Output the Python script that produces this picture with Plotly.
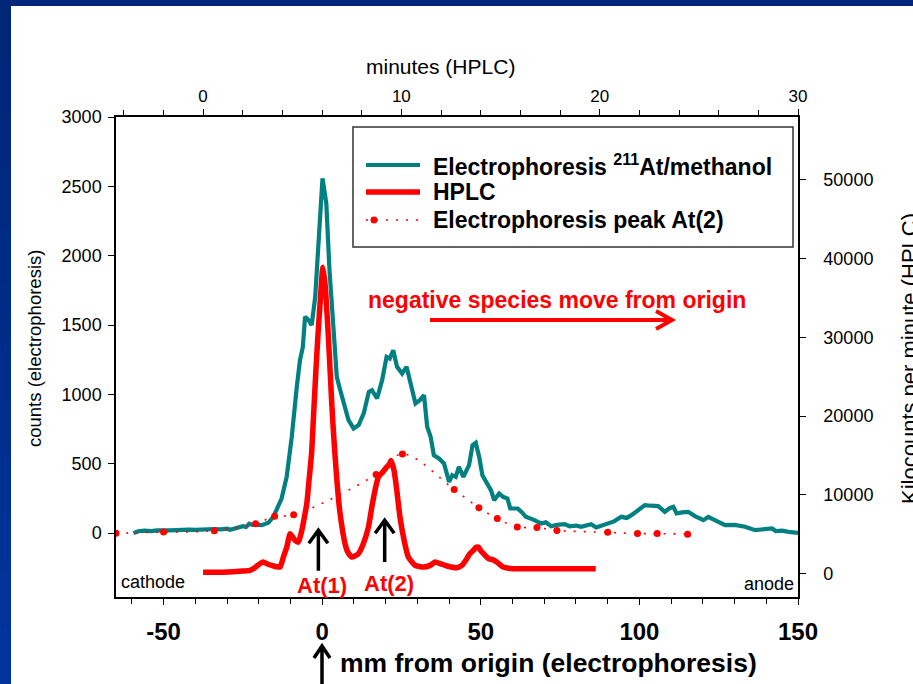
import plotly.graph_objects as go

# ---- data -------------------------------------------------------------
# electrophoresis scan: position (mm from origin) vs counts
ep_mm = [-59.5, -58, -56, -54, -52, -50, -48, -46, -44, -42, -40, -38, -36, -34, -32,
         -30, -29, -27, -25, -24, -23, -22, -21, -19, -17, -15.4, -14, -12.8, -11.2,
         -9.6, -8.0, -7.0, -6.1, -5.4, -4.3, -3.3, -2.2, -1.2, 0.1, 1.3, 2.3, 3.6, 4.6,
         5.7, 7.3, 8.3, 9.9, 11.5, 13.1, 14.7, 15.7, 17.3, 18.9, 20.3, 21.3, 22.4, 23.6,
         25.2, 26.6, 28.1, 29.4, 30.8, 32.1, 33.1, 34.2, 35.2, 36.8, 38.4, 40.0, 41.0,
         42.1, 43.1, 44.5, 46.3, 47.4, 48.4, 49.5, 50.5, 52.1, 53.2, 54.2, 55.8, 57.0,
         58.4, 59.3, 61.6, 63.0, 64.2, 66.9, 69.0, 70.5, 72.2, 74.0, 76.4, 78.0, 80.0,
         81.6, 83.0, 84.8, 86.4, 88.0, 90.1, 92.0, 94.3, 96.0, 97.5, 99.6, 101.7, 103.5,
         105.9, 108.0, 109.5, 110.7, 111.7, 113.5, 115.4, 117.5, 119.0, 120.2, 121.7,
         124.0, 127.0, 130.0, 133.3, 136.5, 139.0, 141.8, 143.0, 145.0, 147.0, 150.0]
ep_counts = [0, 14, 18, 15, 20, 17, 20, 22, 20, 25, 24, 28, 26, 30, 28,
             32, 25, 35, 50, 45, 68, 60, 62, 58, 75, 117, 180, 250, 406,
             694, 1055, 1247, 1343, 1560, 1536, 1500, 1704, 2137, 2558, 2377, 1897, 1464, 1127,
             1031, 911, 815, 755, 779, 863, 1019, 1031, 971, 1103, 1271, 1259, 1319, 1199,
             1151, 1199, 1055, 935, 959, 995, 767, 694, 562, 539, 503, 370, 418,
             406, 478, 406, 490, 634, 651, 550, 418, 358, 310, 238, 286, 262,
             250, 178, 178, 150, 118, 94, 70, 78, 50, 60, 65, 50, 55,
             46, 55, 65, 41, 52, 65, 85, 118, 110, 130, 166, 202, 198,
             195, 154, 180, 190, 142, 150, 154, 123, 105, 94, 118,
             90, 58, 60, 46, 22, 30, 34, 15, 18, 10, 2]

# HPLC trace: retention time (min) vs kilocounts per minute
hplc_min = [0.0, 0.5, 1.0, 1.5, 2.0, 2.37, 2.6, 2.85, 3.04, 3.25, 3.46, 3.7, 3.88, 4.05,
            4.22, 4.39, 4.5, 4.64, 4.81, 4.98, 5.1, 5.23, 5.35, 5.47, 5.58, 5.69, 5.8,
            5.9, 6.04, 6.15, 6.32, 6.49, 6.6, 6.71, 6.81, 6.91, 7.16, 7.3, 7.5, 7.65,
            7.83, 8.08, 8.34, 8.51, 8.67, 8.84, 9.06, 9.26, 9.4, 9.48, 9.63, 9.77, 9.93,
            10.14, 10.35, 10.69, 11.11, 11.45, 11.7, 12.0, 12.2, 12.5, 12.79, 13.05,
            13.3, 13.45, 13.63, 13.75, 13.88, 14.0, 14.14, 14.39, 14.6, 14.81, 15.14,
            15.4, 15.65, 16.5, 17.5, 18.5, 19.0, 19.8]
hplc_kcpm = [150, 150, 160, 200, 300, 380, 700, 1200, 1440, 1200, 1020, 850, 800, 2070,
             3340, 5040, 4700, 4190, 3980, 5460, 7000, 8860, 12000, 15200, 20500, 25800, 30500,
             34270, 38920, 36800, 30030, 21560, 17000, 13090, 10000, 7590, 3770, 2700, 2070, 2200,
             2500, 3770, 5880, 8430, 10550, 12240, 12870, 13510, 13900, 14360, 13090, 10550, 7150,
             4190, 2070, 1020, 800, 1020, 1440, 1200, 1020, 820, 720, 1020,
             1870, 2500, 2920, 3300, 3340, 2900, 2500, 1870, 1750, 1440, 800,
             650, 600, 600, 600, 600, 600, 600]

# electrophoresis peak At(2)
peak_mm = [-65, -50, -34, -21, -15, -9, 17, 25.3, 41.6, 49.4, 55.2, 61.5, 67.7, 74, 90,
           99.4, 105.6, 115.2]
peak_counts = [0, 8, 18, 68, 122, 132, 423, 571, 315, 184, 105, 45, 41, 20, 6,
               -3, -3, -7]

# axis ticks
mm_ticks = [-50, 0, 50, 100, 150]
min_ticks = [0, 10, 20, 30]
count_ticks = [0, 500, 1000, 1500, 2000, 2500, 3000]
kcpm_ticks = [0, 10000, 20000, 30000, 40000, 50000]

series_names = ["Electrophoresis <sup>211</sup>At/methanol", "HPLC",
                "Electrophoresis peak At(2)"]

# ---- layout geometry (pixels) -----------------------------------------
W, H = 913, 684
ML, MR, MT, MB = 116, 115, 117, 87
PW, PH = W - ML - MR, H - MT - MB


def px(x):
    return (x - ML) / PW


def py(y):
    return (H - MB - y) / PH


FONT = "Liberation Sans, Arial, sans-serif"
TEAL = "#008080"
RED = "#ff0000"
BLACK = "#000000"
DOT_DASH = "2px,8px"

fig = go.Figure()
fig.add_trace(go.Scatter(
    x=ep_mm, y=ep_counts, mode="lines", xaxis="x", yaxis="y",
    line=dict(color=TEAL, width=4.2), name=series_names[0]))
fig.add_trace(go.Scatter(
    x=hplc_min, y=hplc_kcpm, mode="lines", xaxis="x2", yaxis="y2",
    line=dict(color=RED, width=5.5, shape="spline", smoothing=0.5),
    name=series_names[1]))
fig.add_trace(go.Scatter(
    x=peak_mm, y=peak_counts, mode="lines+markers", xaxis="x", yaxis="y",
    line=dict(color=RED, width=1.6, dash=DOT_DASH, shape="spline", smoothing=1.0),
    marker=dict(color=RED, size=7), name=series_names[2]))

axis_common = dict(showgrid=False, zeroline=False, showline=True, linecolor=BLACK,
                   linewidth=1.5, ticks="outside", tickcolor=BLACK, tickwidth=1.2,
                   ticklen=6)

fig.update_layout(
    width=W, height=H,
    margin=dict(l=ML, r=MR, t=MT, b=MB, pad=0),
    paper_bgcolor="white", plot_bgcolor="white",
    font=dict(family=FONT, color=BLACK),
    showlegend=False,
    xaxis=dict(axis_common, range=[-65, 150], tickvals=mm_ticks,
               ticktext=[str(v) for v in mm_ticks],
               tickfont=dict(size=24, weight="bold"), ticklabelstandoff=6,
               minor=dict(dtick=10, tick0=0, ticks="outside", ticklen=5,
                          tickcolor=BLACK, tickwidth=1.2)),
    xaxis2=dict(axis_common, overlaying="x", side="top", range=[-4.39, 30],
                tickvals=min_ticks, tickfont=dict(size=17), ticklen=6,
                minor=dict(dtick=2, tick0=0, ticks="outside", ticklen=5,
                           tickcolor=BLACK, tickwidth=1.2)),
    yaxis=dict(axis_common, range=[-460, 3000], tickvals=count_ticks,
               tickfont=dict(size=18), ticklabelstandoff=3),
    yaxis2=dict(axis_common, overlaying="y", side="right", range=[-3000, 58000],
                tickvals=kcpm_ticks, ticktext=[str(v) for v in kcpm_ticks],
                tickfont=dict(size=18), ticklabelstandoff=14),
)

shapes = []
ann = []

# ---- legend box, drawn by hand -----------------------------------------
shapes.append(dict(type="rect", xref="paper", yref="paper",
                   x0=px(353), x1=px(793), y0=py(247), y1=py(127),
                   line=dict(color="#333333", width=1.5), fillcolor="rgba(0,0,0,0)"))
leg_rows = [165, 192, 220]
shapes.append(dict(type="line", xref="paper", yref="paper",
                   x0=px(366), x1=px(420), y0=py(leg_rows[0]), y1=py(leg_rows[0]),
                   line=dict(color=TEAL, width=4.2)))
shapes.append(dict(type="line", xref="paper", yref="paper",
                   x0=px(366), x1=px(420), y0=py(leg_rows[1]), y1=py(leg_rows[1]),
                   line=dict(color=RED, width=5.5)))
shapes.append(dict(type="line", xref="paper", yref="paper",
                   x0=px(366), x1=px(421), y0=py(leg_rows[2]), y1=py(leg_rows[2]),
                   line=dict(color=RED, width=1.6, dash=DOT_DASH)))
shapes.append(dict(type="circle", xref="paper", yref="paper",
                   x0=px(370.5), x1=px(377.5), y0=py(223.5), y1=py(216.5),
                   fillcolor=RED, line=dict(width=0)))
for name, row in zip(series_names, leg_rows):
    ann.append(dict(text=name, x=px(431), y=py(row), xref="paper", yref="paper",
                    showarrow=False, xanchor="left", yanchor="middle",
                    font=dict(family=FONT, size=23, weight="bold", color=BLACK)))

# ---- slide frame: navy band on top and a darkening band on the left ----
shapes.append(dict(type="rect", xref="paper", yref="paper", layer="above",
                   x0=px(0), x1=px(W + 2), y0=py(6), y1=py(-2),
                   fillcolor="#00267a", line=dict(width=0)))
n_seg = 12
for i in range(n_seg):
    t = i / (n_seg - 1)
    g, b = int(38 + (52 - 38) * t), int(120 + (156 - 120) * t)
    y_top = -2 + i * (H + 4) / n_seg
    y_bot = -2 + (i + 1) * (H + 4) / n_seg + 1
    shapes.append(dict(type="rect", xref="paper", yref="paper", layer="above",
                       x0=px(-2), x1=px(11), y0=py(y_bot), y1=py(y_top),
                       fillcolor=f"rgb(0,{g},{b})", line=dict(width=0)))

# ---- red direction arrow ----------------------------------------------
shapes.append(dict(type="path", xref="paper", yref="paper",
                   path=(f"M{px(430)},{py(320)} L{px(671)},{py(320)} "
                         f"M{px(656)},{py(311)} L{px(672)},{py(320)} L{px(656)},{py(329)}"),
                   line=dict(color=RED, width=4)))


# black up arrows (shaft + open head) under the two At peaks
def up_arrow(x_mm, tip, tail):
    hw = 3.0   # half width of the head, mm
    hh = 95    # head height, counts
    return dict(type="path", xref="x", yref="y",
                path=(f"M{x_mm},{tail} L{x_mm},{tip} "
                      f"M{x_mm - hw},{tip - hh} L{x_mm},{tip} L{x_mm + hw},{tip - hh}"),
                line=dict(color=BLACK, width=3.5))


shapes.append(up_arrow(-1.2, 22, -270))
shapes.append(up_arrow(19.7, 94, -207))

# arrow at the origin below the axis
shapes.append(dict(type="path", xref="paper", yref="paper",
                   path=(f"M{px(322)},{py(686)} L{px(322)},{py(646)} "
                         f"M{px(314)},{py(658)} L{px(322)},{py(646)} L{px(330)},{py(658)}"),
                   line=dict(color=BLACK, width=3.5)))
fig.update_layout(shapes=shapes)


def label(text, x, y, size, color=BLACK, bold=False, angle=0, xa="center", ya="middle"):
    ann.append(dict(text=text, x=px(x), y=py(y), xref="paper", yref="paper",
                    showarrow=False, textangle=angle, xanchor=xa, yanchor=ya,
                    font=dict(family=FONT, size=size, color=color,
                              weight="bold" if bold else "normal")))


label("minutes (HPLC)", 440, 67, 21)
label("counts (electrophoresis)", 34, 349, 18.5, angle=-90)
label("Kilocounts per minute (HPLC)", 909, 359, 22, angle=-90)
label("mm from origin (electrophoresis)", 548, 663, 26.5, bold=True)
label("negative species move from origin", 557, 300, 23, color=RED, bold=True)
label("At(1)", 322, 585, 22, color=RED, bold=True)
label("At(2)", 389, 583, 22, color=RED, bold=True)
label("cathode", 119, 582, 18, xa="left")
label("anode", 796, 584, 18, xa="right")
fig.update_layout(annotations=ann)

fig.write_html("out.html")
